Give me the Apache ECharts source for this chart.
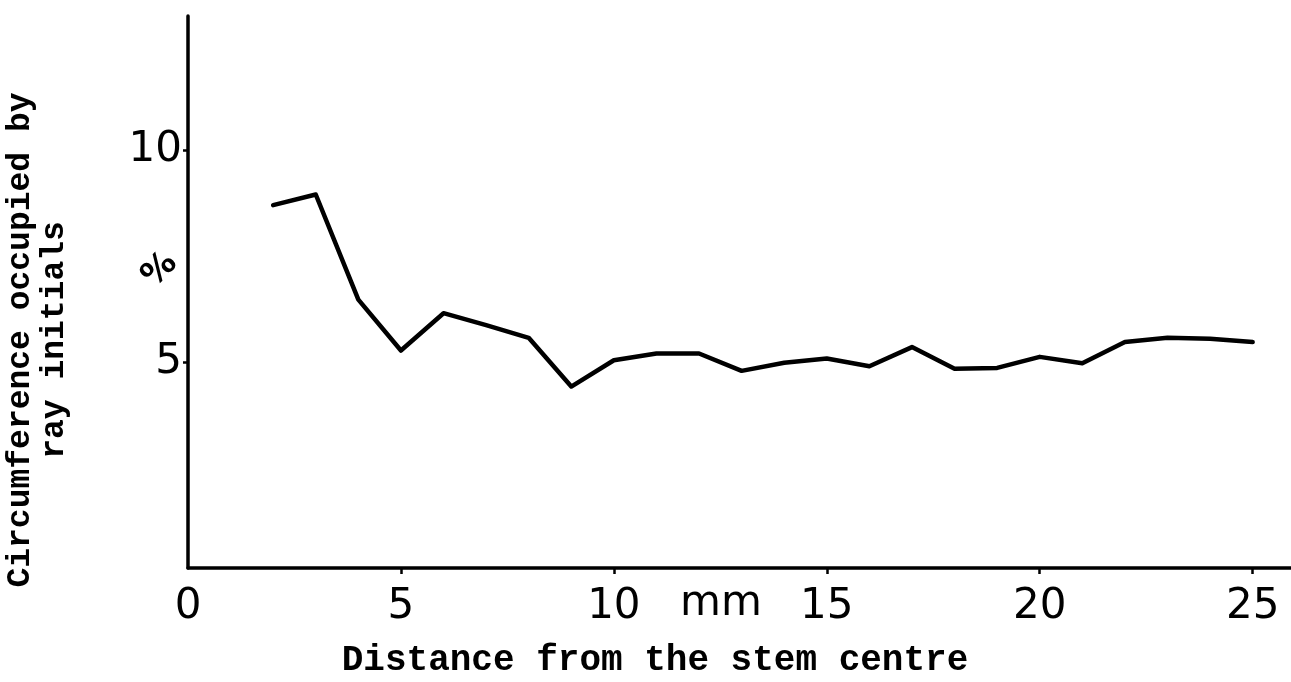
<!DOCTYPE html>
<html>
<head>
<meta charset="utf-8">
<script src="https://cdn.jsdelivr.net/npm/echarts@6/dist/echarts.min.js"></script>
<style>
html,body{margin:0;padding:0;background:#fff;}
#chart{width:1291px;height:682px;}
</style>
</head>
<body>
<div id="chart"></div>
<script>
// Distance from the stem centre (mm)
const distances = [2, 3, 4, 5, 6, 7, 8, 9, 10, 11, 12, 13, 14, 15, 16, 17, 18, 19, 20, 21, 22, 23, 24, 25];
// % circumference occupied by ray initials
const rayPercent = [8.7, 8.95, 6.47, 5.27, 6.15, 5.87, 5.57, 4.42, 5.04, 5.2, 5.2, 4.79, 4.98, 5.08, 4.9, 5.35, 4.84, 4.86, 5.12, 4.97, 5.47, 5.57, 5.55, 5.47];
const xTicks = [0, 5, 10, 15, 20, 25];
const yTicks = [5, 10];
const xTitle = 'Distance from the stem centre';
const yTitle = 'Circumference occupied by\nray initials';
const xUnit = 'mm';
const yUnit = '%';

const chart = echarts.init(document.getElementById('chart'));
const labelFont = 'DejaVu Sans';
chart.setOption({
  backgroundColor: '#ffffff',
  animation: false,
  grid: {left: 188, right: 0, top: 16, bottom: 114},
  xAxis: {
    type: 'value', min: 0, max: 25.9,
    axisLine: {show: true, onZero: false, lineStyle: {color: '#000', width: 3.5}},
    axisTick: {show: true, customValues: xTicks.filter(v => v > 0), length: 6, inside: false, lineStyle: {color: '#000', width: 2.5}},
    axisLabel: {customValues: xTicks, color: '#000', fontFamily: labelFont, fontSize: 42, margin: 18, showMinLabel: true, showMaxLabel: true},
    splitLine: {show: false}
  },
  yAxis: {
    type: 'value', min: 0.14, max: 13.16,
    axisLine: {show: true, onZero: false, lineStyle: {color: '#000', width: 3.5}},
    axisTick: {show: true, customValues: yTicks, length: 5, lineStyle: {color: '#000', width: 2.5}},
    axisLabel: {customValues: yTicks, color: '#000', fontFamily: labelFont, fontSize: 42, margin: 6},
    splitLine: {show: false}
  },
  series: [{
    type: 'line',
    data: distances.map((d, i) => [d, rayPercent[i]]),
    showSymbol: false,
    lineStyle: {color: '#000', width: 4.5, join: 'round', cap: 'round'}
  }],
  graphic: [
    {type: 'text', left: 680, top: 583, style: {text: xUnit, font: '42px "DejaVu Sans"', fill: '#000'}},
    {type: 'text', x: 160, y: 270, rotation: Math.PI / 4, style: {text: yUnit, font: 'bold 34px "DejaVu Sans"', fill: '#000', align: 'center', verticalAlign: 'middle'}},
    {type: 'text', x: 655, y: 661, style: {text: xTitle, font: 'bold 36px "Liberation Mono"', fill: '#000', align: 'center', verticalAlign: 'middle'}},
    {type: 'text', x: 38, y: 340, rotation: Math.PI / 2, style: {text: yTitle, font: 'bold 33px "Liberation Mono"', lineHeight: 34, fill: '#000', align: 'center', verticalAlign: 'middle'}}
  ]
});
</script>
</body>
</html>
